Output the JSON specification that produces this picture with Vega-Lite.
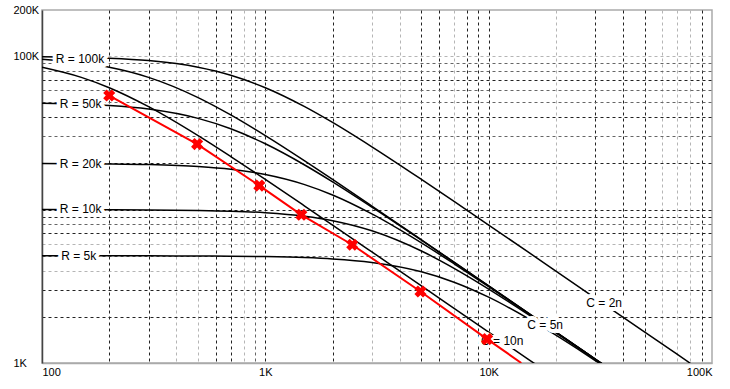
{
  "$schema": "https://vega.github.io/schema/vega-lite/v6.json",
  "width": 670,
  "height": 353,
  "autosize": {"type": "none"},
  "padding": {"left": 42, "top": 10, "right": 18, "bottom": 26},
  "background": "white",
  "config": {"view": {"stroke": "#aaaaaa", "strokeWidth": 1.5}, "font": "Liberation Sans"},
  "datasets": {
    "curves": [
      {"curve": "R100k C2n", "f": 100, "z": 99220}, {"curve": "R100k C2n", "f": 150, "z": 98270}, {"curve": "R100k C2n", "f": 200, "z": 96980}, {"curve": "R100k C2n", "f": 300, "z": 93570}, {"curve": "R100k C2n", "f": 500, "z": 84670}, {"curve": "R100k C2n", "f": 700, "z": 75080}, {"curve": "R100k C2n", "f": 1000, "z": 62270}, {"curve": "R100k C2n", "f": 1500, "z": 46860}, {"curve": "R100k C2n", "f": 2000, "z": 36970}, {"curve": "R100k C2n", "f": 3000, "z": 25640}, {"curve": "R100k C2n", "f": 5000, "z": 15720}, {"curve": "R100k C2n", "f": 7000, "z": 11300}, {"curve": "R100k C2n", "f": 10000, "z": 7933}, {"curve": "R100k C2n", "f": 15000, "z": 5298}, {"curve": "R100k C2n", "f": 20000, "z": 3976}, {"curve": "R100k C2n", "f": 30000, "z": 2652}, {"curve": "R100k C2n", "f": 50000, "z": 1591}, {"curve": "R100k C2n", "f": 70000, "z": 1137}, {"curve": "R100k C2n", "f": 80000, "z": 994.7},
      {"curve": "R100k C5n", "f": 100, "z": 95400}, {"curve": "R100k C5n", "f": 150, "z": 90460}, {"curve": "R100k C5n", "f": 200, "z": 84670}, {"curve": "R100k C5n", "f": 300, "z": 72770}, {"curve": "R100k C5n", "f": 500, "z": 53700}, {"curve": "R100k C5n", "f": 700, "z": 41390}, {"curve": "R100k C5n", "f": 1000, "z": 30330}, {"curve": "R100k C5n", "f": 1500, "z": 20760}, {"curve": "R100k C5n", "f": 2000, "z": 15720}, {"curve": "R100k C5n", "f": 3000, "z": 10551}, {"curve": "R100k C5n", "f": 5000, "z": 6353}, {"curve": "R100k C5n", "f": 7000, "z": 4543}, {"curve": "R100k C5n", "f": 10000, "z": 3182}, {"curve": "R100k C5n", "f": 15000, "z": 2122}, {"curve": "R100k C5n", "f": 20000, "z": 1591}, {"curve": "R100k C5n", "f": 25000, "z": 1273}, {"curve": "R100k C5n", "f": 30000, "z": 1061}, {"curve": "R100k C5n", "f": 35000, "z": 909.4},
      {"curve": "R100k C10n", "f": 100, "z": 84670}, {"curve": "R100k C10n", "f": 150, "z": 72770}, {"curve": "R100k C10n", "f": 200, "z": 62270}, {"curve": "R100k C10n", "f": 300, "z": 46860}, {"curve": "R100k C10n", "f": 500, "z": 30330}, {"curve": "R100k C10n", "f": 700, "z": 22170}, {"curve": "R100k C10n", "f": 1000, "z": 15720}, {"curve": "R100k C10n", "f": 1500, "z": 10551}, {"curve": "R100k C10n", "f": 2000, "z": 7933}, {"curve": "R100k C10n", "f": 3000, "z": 5298}, {"curve": "R100k C10n", "f": 5000, "z": 3182}, {"curve": "R100k C10n", "f": 7000, "z": 2273}, {"curve": "R100k C10n", "f": 10000, "z": 1591}, {"curve": "R100k C10n", "f": 15000, "z": 1061}, {"curve": "R100k C10n", "f": 17000, "z": 936.2},
      {"curve": "R50k C5n", "f": 100, "z": 49390}, {"curve": "R50k C5n", "f": 150, "z": 48670}, {"curve": "R50k C5n", "f": 200, "z": 47700}, {"curve": "R50k C5n", "f": 300, "z": 45230}, {"curve": "R50k C5n", "f": 500, "z": 39320}, {"curve": "R50k C5n", "f": 700, "z": 33640}, {"curve": "R50k C5n", "f": 1000, "z": 26850}, {"curve": "R50k C5n", "f": 1500, "z": 19530}, {"curve": "R50k C5n", "f": 2000, "z": 15166}, {"curve": "R50k C5n", "f": 3000, "z": 10379}, {"curve": "R50k C5n", "f": 5000, "z": 6315}, {"curve": "R50k C5n", "f": 7000, "z": 4529}, {"curve": "R50k C5n", "f": 10000, "z": 3177}, {"curve": "R50k C5n", "f": 15000, "z": 2120}, {"curve": "R50k C5n", "f": 20000, "z": 1591}, {"curve": "R50k C5n", "f": 25000, "z": 1273}, {"curve": "R50k C5n", "f": 30000, "z": 1061}, {"curve": "R50k C5n", "f": 35000, "z": 909.4},
      {"curve": "R20k C5n", "f": 100, "z": 19960}, {"curve": "R20k C5n", "f": 200, "z": 19840}, {"curve": "R20k C5n", "f": 300, "z": 19650}, {"curve": "R20k C5n", "f": 500, "z": 19080}, {"curve": "R20k C5n", "f": 700, "z": 18310}, {"curve": "R20k C5n", "f": 1000, "z": 16930}, {"curve": "R20k C5n", "f": 1500, "z": 14550}, {"curve": "R20k C5n", "f": 2000, "z": 12450}, {"curve": "R20k C5n", "f": 3000, "z": 9373}, {"curve": "R20k C5n", "f": 5000, "z": 6066}, {"curve": "R20k C5n", "f": 7000, "z": 4434}, {"curve": "R20k C5n", "f": 10000, "z": 3144}, {"curve": "R20k C5n", "f": 15000, "z": 2110}, {"curve": "R20k C5n", "f": 20000, "z": 1587}, {"curve": "R20k C5n", "f": 25000, "z": 1271}, {"curve": "R20k C5n", "f": 30000, "z": 1060}, {"curve": "R20k C5n", "f": 35000, "z": 908.5},
      {"curve": "R10k C5n", "f": 100, "z": 9995}, {"curve": "R10k C5n", "f": 200, "z": 9980}, {"curve": "R10k C5n", "f": 300, "z": 9956}, {"curve": "R10k C5n", "f": 500, "z": 9879}, {"curve": "R10k C5n", "f": 700, "z": 9767}, {"curve": "R10k C5n", "f": 1000, "z": 9540}, {"curve": "R10k C5n", "f": 1500, "z": 9046}, {"curve": "R10k C5n", "f": 2000, "z": 8467}, {"curve": "R10k C5n", "f": 3000, "z": 7277}, {"curve": "R10k C5n", "f": 5000, "z": 5370}, {"curve": "R10k C5n", "f": 7000, "z": 4139}, {"curve": "R10k C5n", "f": 10000, "z": 3033}, {"curve": "R10k C5n", "f": 15000, "z": 2076}, {"curve": "R10k C5n", "f": 20000, "z": 1572}, {"curve": "R10k C5n", "f": 25000, "z": 1263}, {"curve": "R10k C5n", "f": 30000, "z": 1055}, {"curve": "R10k C5n", "f": 35000, "z": 905.7},
      {"curve": "R5k C5n", "f": 100, "z": 4999}, {"curve": "R5k C5n", "f": 200, "z": 4998}, {"curve": "R5k C5n", "f": 300, "z": 4995}, {"curve": "R5k C5n", "f": 500, "z": 4985}, {"curve": "R5k C5n", "f": 700, "z": 4970}, {"curve": "R5k C5n", "f": 1000, "z": 4939}, {"curve": "R5k C5n", "f": 1500, "z": 4867}, {"curve": "R5k C5n", "f": 2000, "z": 4770}, {"curve": "R5k C5n", "f": 3000, "z": 4523}, {"curve": "R5k C5n", "f": 5000, "z": 3932}, {"curve": "R5k C5n", "f": 7000, "z": 3364}, {"curve": "R5k C5n", "f": 10000, "z": 2685}, {"curve": "R5k C5n", "f": 15000, "z": 1953}, {"curve": "R5k C5n", "f": 20000, "z": 1517}, {"curve": "R5k C5n", "f": 25000, "z": 1234}, {"curve": "R5k C5n", "f": 30000, "z": 1038}, {"curve": "R5k C5n", "f": 35000, "z": 894.8}
    ],
    "labels": [
      {"text": "R = 100k", "f": 148, "z": 96200},
      {"text": "R = 50k", "f": 149, "z": 48900},
      {"text": "R = 20k", "f": 149, "z": 19740},
      {"text": "R = 10k", "f": 149, "z": 10050},
      {"text": "R = 5k", "f": 146, "z": 5000},
      {"text": "C = 2n", "f": 32900, "z": 2470},
      {"text": "C = 5n", "f": 17900, "z": 1775},
      {"text": "C = 10n", "f": 11500, "z": 1385}
    ],
    "redline": [
      {"f": 200, "z": 55400}, {"f": 495, "z": 26730}, {"f": 940, "z": 14340}, {"f": 1450, "z": 9250}, {"f": 2450, "z": 5900}, {"f": 4950, "z": 2925}, {"f": 9840, "z": 1432}, {"f": 14000, "z": 1000}
    ],
    "markers": [
      {"f": 200, "z": 55400}, {"f": 495, "z": 26730}, {"f": 940, "z": 14340}, {"f": 1450, "z": 9250}, {"f": 2450, "z": 5900}, {"f": 4950, "z": 2925}, {"f": 9840, "z": 1432}
    ]
  },
  "encoding": {
    "x": {
      "field": "f", "type": "quantitative",
      "scale": {"type": "log", "domain": [100, 100000], "nice": false, "zero": false},
      "axis": {
        "title": null,
        "values": [100, 200, 300, 400, 500, 600, 700, 800, 900, 1000, 2000, 3000, 4000, 5000, 6000, 7000, 8000, 9000, 10000, 20000, 30000, 40000, 50000, 60000, 70000, 80000, 90000, 100000],
        "grid": true, "gridDash": [3, 3], "gridWidth": 1,
        "gridColor": {"condition": [
          {"test": "datum.value == 100 || datum.value == 100000", "value": "rgba(0,0,0,0)"},
          {"test": "indexof([200,300,600,700,1000,2000,5000,6000,8000,9000,10000,30000,40000,50000,90000], datum.value) >= 0", "value": "#222222"},
          {"test": "indexof([400,500,800,3000,4000,7000,20000,60000,70000,80000], datum.value) >= 0", "value": "#b5b5b5"}
        ], "value": "#666666"},
        "ticks": false, "tickSize": 0,
        "domainColor": "#aaaaaa", "domainWidth": 1.5,
        "labelFlush": true, "labelOverlap": false, "labelPadding": 3,
        "labelFontSize": 11, "labelColor": "#000000", "labelFont": "Liberation Sans",
        "labelExpr": "indexof([100,1000,10000,100000], datum.value) >= 0 ? (datum.value >= 1000 ? (datum.value / 1000) + 'K' : datum.value + '') : ''"
      }
    },
    "y": {
      "field": "z", "type": "quantitative",
      "scale": {"type": "log", "domain": [1000, 200000], "nice": false, "zero": false},
      "axis": {
        "title": null,
        "values": [1000, 2000, 3000, 4000, 5000, 6000, 7000, 8000, 9000, 10000, 20000, 30000, 40000, 50000, 60000, 70000, 80000, 90000, 100000, 200000],
        "grid": true, "gridDash": [3, 3], "gridWidth": 1,
        "gridColor": {"condition": [
          {"test": "datum.value == 1000 || datum.value == 200000", "value": "rgba(0,0,0,0)"},
          {"test": "indexof([2000,3000,7000,9000,10000,20000,40000,70000], datum.value) >= 0", "value": "#222222"},
          {"test": "indexof([4000,6000,100000], datum.value) >= 0", "value": "#b5b5b5"}
        ], "value": "#666666"},
        "ticks": false, "tickSize": 0,
        "domainColor": "#444444", "domainWidth": 1.5,
        "labelFlush": false, "labelOverlap": false, "labelPadding": 29, "labelAlign": "left", "labelBaseline": "middle",
        "labelFontSize": 11, "labelColor": "#000000", "labelFont": "Liberation Sans",
        "labelExpr": "indexof([1000,100000,200000], datum.value) >= 0 ? (datum.value / 1000) + 'K' : ''"
      }
    }
  },
  "layer": [
    {
      "data": {"name": "curves"},
      "mark": {"type": "line", "color": "#000000", "strokeWidth": 1.5, "clip": true, "interpolate": "monotone"},
      "encoding": {"detail": {"field": "curve", "type": "nominal"}}
    },
    {
      "data": {"name": "labels"},
      "mark": {"type": "text", "font": "Liberation Sans", "fontSize": 12, "align": "center", "baseline": "middle", "fill": "white", "stroke": "white", "strokeWidth": 8, "strokeJoin": "round"},
      "encoding": {"text": {"field": "text", "type": "nominal"}}
    },
    {
      "data": {"name": "labels"},
      "mark": {"type": "text", "font": "Liberation Sans", "fontSize": 12, "align": "center", "baseline": "middle", "color": "#000000"},
      "encoding": {"text": {"field": "text", "type": "nominal"}}
    },
    {
      "data": {"name": "redline"},
      "mark": {"type": "line", "color": "#ff0000", "strokeWidth": 2, "clip": true}
    },
    {
      "data": {"name": "markers"},
      "mark": {"type": "point", "shape": "cross", "angle": 45, "filled": true, "color": "#ff0000", "size": 150, "opacity": 1}
    }
  ]
}
